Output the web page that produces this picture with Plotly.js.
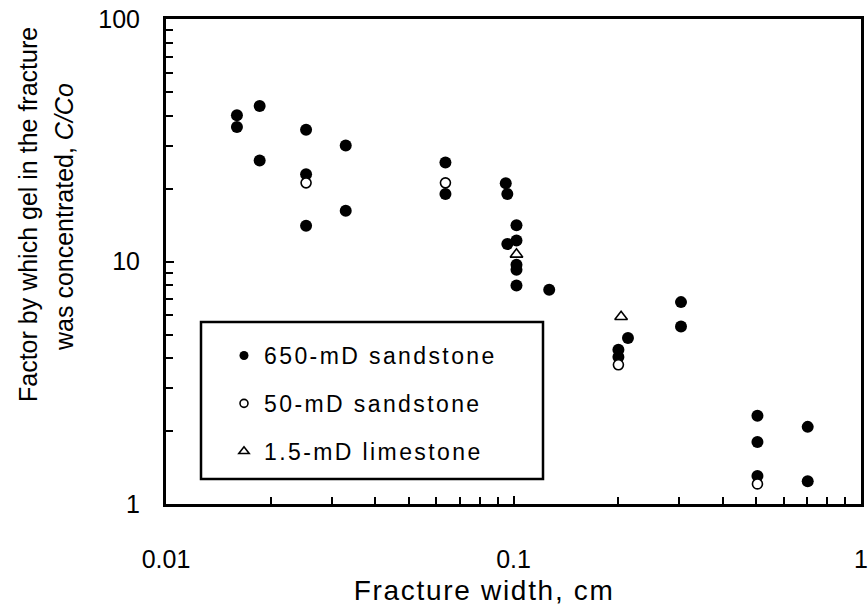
<!DOCTYPE html>
<html>
<head>
<meta charset="utf-8">
<script src="https://cdn.plot.ly/plotly-3.0.1.min.js"></script>
<style>
  html, body { margin: 0; padding: 0; background: #fff; }
  #chart { width: 868px; height: 608px; }
  #chart .legendtext { letter-spacing: 2.4px; }
  #chart .legend, #chart .legend * { clip-path: none !important; }
  #chart g.annotation[data-index="0"] text { letter-spacing: 1.7px; }
</style>
</head>
<body>
<div id="chart"></div>
<script>
// Series names
const seriesNames = ['650-mD sandstone', '50-mD sandstone', '1.5-mD limestone'];

// 650-mD sandstone (filled circles)
const sand650X = [0.016, 0.016, 0.0186, 0.0186, 0.0253, 0.0253, 0.0253, 0.0329, 0.0329,
                  0.0637, 0.0637, 0.095, 0.096, 0.096, 0.102, 0.102, 0.102, 0.102, 0.102,
                  0.1267, 0.2004, 0.2004, 0.2135, 0.3034, 0.3034, 0.5035, 0.5035, 0.5035,
                  0.7025, 0.7025];
const sand650Y = [40.1, 35.9, 43.8, 26.1, 34.9, 22.9, 14.05, 30.1, 16.2,
                  25.6, 19.0, 21.0, 19.0, 11.8, 14.1, 12.2, 9.7, 9.25, 7.97,
                  7.65, 4.33, 4.04, 4.84, 6.8, 5.4, 2.31, 1.80, 1.305,
                  2.08, 1.24];

// 50-mD sandstone (open circles)
const sand50X = [0.0253, 0.0637, 0.2004, 0.5035];
const sand50Y = [21.1, 21.1, 3.75, 1.21];

// 1.5-mD limestone (open triangles)
const limeX = [0.102, 0.204];
const limeY = [10.7, 5.92];

// Axis tick labels
const xTickVals = [0.01, 0.1, 1];
const xTickText = ['0.01', '0.1', '1'];
const yTickVals = [1, 10, 100];
const yTickText = ['1', '10', '100'];

// Axis titles
const xTitle = 'Fracture width, cm';
const yTitleLines = ['Factor by which gel in the fracture', 'was concentrated, <i>C/Co</i>'];

const FONT = 'Liberation Sans, Arial, sans-serif';

function alias(vals, texts) {
  const o = {};
  vals.forEach((v, i) => { o[String(v)] = texts[i]; });
  return o;
}

const markerStyles = [
  { symbol: 'circle', color: '#000', line: { width: 0 } },
  { symbol: 'circle', color: '#fff', line: { width: 1.6, color: '#000' } },
  { symbol: 'triangle-up', color: '#fff', line: { width: 1.6, color: '#000' } }
];
const dataSizes = [12, 10, 11];
const legendSizes = [9, 8, 9];
const xs = [sand650X, sand50X, limeX];
const ys = [sand650Y, sand50Y, limeY];

const traces = [];
for (let i = 0; i < 3; i++) {
  traces.push({
    x: xs[i], y: ys[i], name: seriesNames[i], type: 'scatter', mode: 'markers',
    marker: Object.assign({}, markerStyles[i], { size: dataSizes[i] }),
    showlegend: false, legendgroup: 'g' + i
  });
}
for (let i = 0; i < 3; i++) {
  traces.push({
    x: [null], y: [null], name: seriesNames[i], type: 'scatter', mode: 'markers',
    marker: Object.assign({}, markerStyles[i], { size: legendSizes[i] }),
    showlegend: true, legendgroup: 'g' + i
  });
}

const L = 166, R = 7, T = 19, B = 104, W = 868, H = 608;
const pw = W - L - R, ph = H - T - B;
const px = v => (v - L) / pw;
const py = v => (H - B - v) / ph;

const axisCommon = {
  type: 'log',
  tickmode: 'linear', tick0: 0, dtick: 1,
  ticks: 'inside', ticklen: 8, tickwidth: 2, tickcolor: '#000',
  minor: { dtick: 'D1', ticks: 'inside', ticklen: 7, tickwidth: 2, tickcolor: '#000', showgrid: false },
  showline: true, linewidth: 3, linecolor: '#000', mirror: true,
  showgrid: false, zeroline: false,
  ticklabeloverflow: 'allow',
  tickfont: { family: FONT, size: 25, color: '#000' }
};

const layout = {
  width: W, height: H,
  margin: { l: L, r: R, t: T, b: B, pad: 0 },
  paper_bgcolor: '#fff', plot_bgcolor: '#fff',
  font: { family: FONT, color: '#000' },
  showlegend: true,
  legend: {
    x: px(224), y: py(334), xanchor: 'left', yanchor: 'top',
    bgcolor: 'rgba(0,0,0,0)', borderwidth: 0,
    font: { family: FONT, size: 23, color: '#000' },
    traceorder: 'grouped', tracegroupgap: 15
  },
  xaxis: Object.assign({}, axisCommon, {
    range: [-2, 0],
    labelalias: alias(xTickVals, xTickText),
    ticklabelstandoff: 31
  }),
  yaxis: Object.assign({}, axisCommon, {
    range: [0, 2],
    labelalias: alias(yTickVals, yTickText),
    ticklabelstandoff: 18
  }),
  annotations: [
    {
      text: xTitle, showarrow: false,
      xref: 'paper', yref: 'paper', x: px(484), y: py(590), xanchor: 'center', yanchor: 'middle',
      font: { family: FONT, size: 28, color: '#000' }
    },
    {
      text: yTitleLines[0], textangle: -90, showarrow: false,
      xref: 'paper', yref: 'paper', x: px(28), y: py(215), xanchor: 'center', yanchor: 'middle',
      font: { family: FONT, size: 25, color: '#000' }
    },
    {
      text: yTitleLines[1], textangle: -90, showarrow: false,
      xref: 'paper', yref: 'paper', x: px(64), y: py(217), xanchor: 'center', yanchor: 'middle',
      font: { family: FONT, size: 25, color: '#000' }
    }
  ],
  shapes: [
    {
      type: 'rect', xref: 'paper', yref: 'paper',
      x0: px(201), x1: px(543), y0: py(479), y1: py(322),
      line: { color: '#000', width: 2.5 }, fillcolor: 'rgba(0,0,0,0)', layer: 'above'
    }
  ]
};

Plotly.newPlot('chart', traces, layout, { displayModeBar: false, staticPlot: true });
</script>
</body>
</html>
